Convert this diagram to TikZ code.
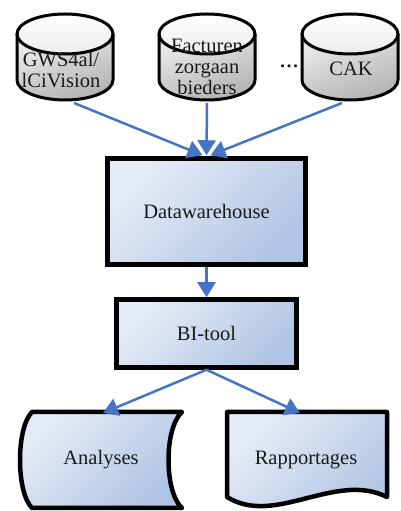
\documentclass[tikz,border=0pt]{standalone}
\usepackage{fontspec}
\setmainfont{Liberation Serif}
\usetikzlibrary{arrows.meta}
\definecolor{arrowblue}{RGB}{70,116,196}
\definecolor{boxlight}{RGB}{230,236,247}
\definecolor{boxdark}{RGB}{176,197,227}
\definecolor{txt}{RGB}{25,25,25}
\definecolor{cylL}{RGB}{236,236,236}
\definecolor{cylR}{RGB}{178,178,178}
\begin{document}
\begin{tikzpicture}[x=1pt,y=1pt,
  lbl/.style={font=\fontsize{20.5}{21}\selectfont, text=txt, align=center, inner sep=0pt},
  conn/.style={draw=arrowblue, line width=2.5pt, -{Triangle[width=18pt,length=15pt]}},
  boxshade/.style={top color=boxlight, bottom color=boxdark, shading angle=45},
  box/.style={rectangle, draw=black, line width=4.5pt, boxshade, font=\fontsize{20.5}{21}\selectfont, text=txt},
  cylpic/.pic={
    \path[top color=cylL, bottom color=cylR, shading angle=20]
      (-48,0) -- (-48,-46) arc[start angle=180,end angle=360,x radius=48,y radius=20] -- (48,0) -- cycle;
    \path[top color=white, bottom color=gray!15] (0,0) ellipse[x radius=48,y radius=20];
    \draw[line width=3pt] (-48,0) -- (-48,-46) arc[start angle=180,end angle=360,x radius=48,y radius=20] -- (48,0);
    \draw[line width=3pt] (0,0) ellipse[x radius=48,y radius=20];
  }
]
\useasboundingbox (0,0) rectangle (400,511);

% source cylinders
\pic at (65,477) {cylpic};
\pic at (207,477) {cylpic};
\pic at (350,477) {cylpic};
\node[lbl] (src1) at (61,441) {GWS4al/\\lCiVision};
\node[lbl] (src2) at (207,444) {Facturen\\zorgaan\\bieders};
\node[lbl] (src3) at (351,442) {CAK};
\node[lbl, font=\fontsize{26}{26}\selectfont, anchor=base] (dots) at (289,443) {...};
\coordinate (s1) at (74,408);
\coordinate (s2) at (207,408);
\coordinate (s3) at (342,408);

% boxes
\node[box, minimum width=198, minimum height=106] (dw) at (206.5,299.5) {Datawarehouse};
\node[box, minimum width=180, minimum height=68] (bi) at (206.5,177.5) {BI-tool};

% Analyses (stored data shape)
\path[boxshade, draw=black, line width=4.5pt, line join=round]
  (32,99) -- (182,99) .. controls (164,83) and (164,19) .. (182,3)
  -- (32,3) .. controls (16,19) and (16,83) .. (32,99) -- cycle;
\node[lbl] (ana) at (101,51) {Analyses};
\coordinate (anatop) at (103,98);

% Rapportages (document shape)
\path[boxshade, draw=black, line width=4.5pt, line join=round]
  (227,99) -- (387,99) -- (387,14) .. controls (335,40) and (275,-16) .. (227,14) -- cycle;
\node[lbl] (rap) at (306,51) {Rapportages};
\coordinate (raptop) at (300,98);

% connectors
\draw[conn] (s1) -- ([xshift=-4pt,yshift=1pt]dw.north);
\draw[conn] (s2) -- ([yshift=1pt]dw.north);
\draw[conn] (s3) -- ([xshift=4pt,yshift=1pt]dw.north);
\draw[conn] (dw.south) -- (bi.north);
\draw[conn] (bi.south) -- (anatop);
\draw[conn] (bi.south) -- (raptop);
\end{tikzpicture}
\end{document}
